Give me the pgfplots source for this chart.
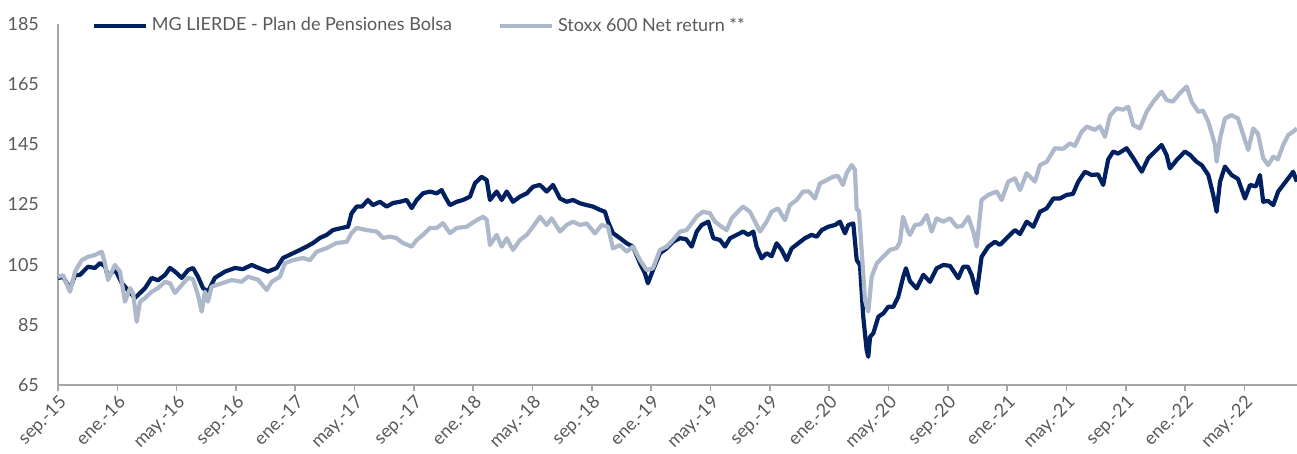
\documentclass[border=0pt]{standalone}
\usepackage{fontspec}
\setmainfont{Lato}
\usepackage{pgfplots}
\pgfplotsset{compat=1.18}
\definecolor{navy}{HTML}{002060}
\definecolor{greyblue}{HTML}{ADB9CA}
\definecolor{txt}{HTML}{595959}
\definecolor{axisgrey}{HTML}{A6A6A6}
\begin{document}
\begin{tikzpicture}
\begin{axis}[
  scale only axis, width=619.5pt, height=180.5pt,
  xmin=0, xmax=83.55, ymin=65, ymax=185,
  axis x line*=bottom, axis y line*=left,
  axis line style={axisgrey, line width=0.8pt},
  ytick={65,85,...,185},
  xtick={0,4,...,80},
  xticklabels={sep.-15,ene.-16,may.-16,sep.-16,ene.-17,may.-17,sep.-17,ene.-18,may.-18,sep.-18,ene.-19,may.-19,sep.-19,ene.-20,may.-20,sep.-20,ene.-21,may.-21,sep.-21,ene.-22,may.-22},
  x tick label style={rotate=45, anchor=north east, inner sep=1pt},
  y tick label style={xshift=-3pt},
  tick label style={font=\fontsize{9}{11}\selectfont, text=txt},
  /pgf/number format/assume math mode=true,
  ytick style={draw=none},
  xtick style={axisgrey, line width=0.8pt},
  tick align=outside, major tick length=3pt,
  legend columns=2,
  legend style={at={(0.022,0.995)}, anchor=west, draw=none, fill=none,
    font=\fontsize{9}{11}\selectfont, text=txt,
    /tikz/every even column/.append style={column sep=21pt}},
  legend image code/.code={\draw[#1] (0pt,0pt) -- (26pt,0pt);},
  every axis plot/.append style={line width=2.1pt, line join=round},
]
\addplot[navy] coordinates {
(0.00,100.5)(0.34,101)(0.81,97)(1.15,101.5)(1.48,101.6)(2.02,104.3)(2.49,103.9)(2.83,105.5)(3.17,104.5)(3.37,101)(3.84,103.5)(4.30,98.9)(4.72,96.5)(5.19,93.9)(5.39,94.9)(5.87,97.2)(6.32,100.6)(6.74,99.8)(7.22,101.6)(7.55,103.9)(7.89,102.7)(8.34,100.6)(8.77,103.2)(9.10,103.9)(9.44,101)(9.78,97.2)(10.11,96)(10.58,100.6)(11.26,102.7)(11.94,103.9)(12.47,103.5)(13.06,104.9)(13.49,104)(14.16,102.7)(14.75,103.9)(15.17,107.2)(15.85,108.8)(16.32,109.9)(16.77,111)(17.20,112.2)(17.67,113.9)(18.12,114.9)(18.54,116.5)(19.13,117.2)(19.56,117.6)(19.80,122.1)(20.14,124.3)(20.50,124.3)(20.90,126.5)(21.24,124.8)(21.71,125.9)(22.16,124.3)(22.59,125.5)(23.06,125.9)(23.51,126.5)(23.85,123.8)(24.19,126.5)(24.61,128.7)(25.08,129.3)(25.54,128.7)(25.87,129.8)(26.10,127.6)(26.43,124.8)(26.89,125.9)(27.31,126.5)(27.78,127.6)(28.12,132.1)(28.57,134.2)(28.91,133.1)(29.13,126.5)(29.58,129.3)(29.92,126.5)(30.26,129.3)(30.68,125.9)(31.15,127.6)(31.61,128.7)(32.03,130.9)(32.50,131.5)(32.95,129.3)(33.38,131.5)(33.85,127)(34.30,125.9)(34.73,126.5)(35.20,125.4)(35.65,124.8)(36.08,124.3)(36.55,123.2)(36.88,122.6)(37.09,119.3)(37.42,115.5)(37.90,113.8)(38.35,112.1)(38.77,111)(39.25,105.4)(39.58,102.1)(39.78,98.8)(40.12,103.2)(40.59,108.8)(41.04,110.4)(41.47,112.6)(41.94,113.8)(42.35,113.5)(42.73,111)(43.07,116)(43.41,118.2)(43.85,119.3)(44.19,113.8)(44.64,113.2)(44.98,111)(45.32,113.8)(45.77,114.9)(46.21,116)(46.55,114.9)(46.89,116)(47.11,111)(47.45,107.1)(47.79,108.8)(48.12,107.8)(48.46,112.1)(48.80,109.9)(49.14,106.5)(49.47,110.4)(49.92,112.1)(50.37,113.8)(50.82,114.9)(51.16,114.3)(51.50,116.5)(51.94,117.6)(52.40,118.2)(52.73,119.3)(53.07,115.4)(53.29,118.2)(53.63,118.7)(53.86,106.5)(54.08,104.9)(54.30,87.7)(54.53,76.6)(54.64,74.4)(54.76,81)(54.98,82.2)(55.32,87.7)(55.65,88.8)(55.99,91)(56.33,91)(56.66,94.3)(57.00,101)(57.18,103.8)(57.45,99.5)(57.90,97.1)(58.35,101.6)(58.80,99.3)(59.25,103.8)(59.70,104.9)(60.15,104.6)(60.71,100.5)(61.04,104.3)(61.36,104.3)(61.61,101.6)(61.95,95.5)(62.28,107.6)(62.73,111)(63.18,112.6)(63.52,111.6)(63.97,113.8)(64.53,116.5)(64.87,115.2)(65.32,119.3)(65.77,117.6)(66.22,122.6)(66.67,123.7)(67.12,127)(67.57,127)(68.02,128.2)(68.44,128.5)(68.80,132.6)(69.25,135.9)(69.70,134.8)(70.13,135)(70.48,131.5)(70.82,140)(71.16,142.6)(71.48,141.9)(72.06,143.7)(72.51,140.4)(73.08,135.9)(73.52,140.4)(73.97,142.6)(74.42,144.8)(74.76,141.4)(74.98,137)(75.44,139.8)(75.99,142.6)(76.33,141.5)(76.78,139.2)(77.14,138)(77.57,134.8)(77.90,128.2)(78.13,122.6)(78.36,132.6)(78.69,137.6)(79.14,134.8)(79.57,133.5)(80.04,127)(80.38,131.5)(80.78,131)(81.05,134.8)(81.27,125.9)(81.59,126.2)(81.95,124.8)(82.28,129.3)(82.62,131.5)(82.96,133.7)(83.29,135.9)(83.54,132.6)
};
\addlegendentry{MG LIERDE - Plan de Pensiones Bolsa}
\addplot[greyblue] coordinates {
(0.00,100.9)(0.34,101.5)(0.81,96)(1.15,102.7)(1.60,106.5)(2.02,107.6)(2.49,108.2)(2.95,109.3)(3.17,105.5)(3.37,99.9)(3.84,104.9)(4.18,102.7)(4.52,92.7)(4.86,97.2)(5.06,95.5)(5.31,86)(5.53,92.7)(5.87,93.9)(6.32,96)(6.74,97.2)(7.22,99.3)(7.55,98.8)(7.89,95.6)(8.34,98.2)(8.77,100.6)(9.10,100.2)(9.44,94.9)(9.69,89.4)(9.91,96)(10.11,92.7)(10.36,97.7)(11.04,98.8)(11.71,99.9)(12.39,99.3)(12.81,101)(13.49,100)(14.07,96.6)(14.41,99.3)(14.97,101)(15.31,105.5)(15.85,106.5)(16.52,107.2)(16.99,106.5)(17.44,109.3)(18.12,110.5)(18.79,112.2)(19.47,112.6)(19.80,115.5)(20.14,117.2)(20.82,116.5)(21.49,116)(21.91,113.9)(22.39,114.3)(22.79,113.9)(23.26,112.2)(23.85,111)(24.19,113.2)(24.61,114.9)(25.08,117.2)(25.54,117.2)(25.96,118.8)(26.43,115.5)(26.89,117.2)(27.56,117.6)(28.23,119.8)(28.66,120.9)(28.91,120)(29.13,111.5)(29.58,114.9)(29.92,111)(30.26,113.8)(30.68,109.9)(31.15,113.2)(31.61,114.9)(32.03,117.6)(32.50,120.9)(32.95,118.2)(33.29,120.4)(33.85,116)(34.30,118.2)(34.73,119.3)(35.20,118.2)(35.65,118.7)(36.21,115.4)(36.66,118.2)(37.09,117.6)(37.42,110.4)(37.90,111.5)(38.35,109.3)(38.77,111)(39.25,106.5)(39.70,103.2)(40.12,103.8)(40.59,109.9)(41.04,111)(41.47,113.2)(41.94,116)(42.39,116.5)(43.07,121)(43.49,122.6)(43.96,122.1)(44.30,119.3)(44.75,117.6)(45.09,116.5)(45.43,120.4)(45.85,122.6)(46.19,124.3)(46.66,122.6)(47.00,119.3)(47.34,116)(47.79,119.3)(48.12,122.6)(48.55,123.7)(49.02,119.8)(49.35,124.8)(49.81,126.5)(50.24,129.3)(50.64,129.3)(51.04,127)(51.38,132)(51.83,133.1)(52.26,134.2)(52.60,134.5)(52.93,131.5)(53.18,135.4)(53.52,138.1)(53.74,136.5)(53.86,123.2)(54.01,123)(54.19,109.9)(54.42,93.2)(54.64,89.4)(54.87,101)(55.21,105.4)(55.63,107.6)(56.10,109.9)(56.55,110.5)(56.78,112.6)(56.98,120.9)(57.32,116)(57.45,114.9)(57.79,118.2)(58.19,118.5)(58.58,121.5)(58.91,116)(59.25,120.4)(59.68,119.3)(60.15,120.4)(60.60,117.6)(60.96,117.8)(61.38,120.9)(61.72,116)(61.95,111)(62.28,126.5)(62.73,128.2)(63.30,129.3)(63.63,126.5)(64.08,132.6)(64.53,133.7)(64.87,129.8)(65.32,135.4)(65.88,132.6)(66.22,138.1)(66.67,139.2)(67.23,143.7)(67.77,143.5)(68.24,145.3)(68.57,144.5)(69.03,149.2)(69.37,150.9)(69.92,149.8)(70.26,151)(70.60,147.5)(70.94,154.5)(71.39,157)(71.81,156.5)(72.17,157.5)(72.51,151.4)(72.96,150.3)(73.41,155.8)(73.86,159.2)(74.42,162.5)(74.76,159.7)(75.18,159.2)(75.65,162)(76.11,164.2)(76.44,159.2)(76.89,155.8)(77.21,156.2)(77.57,152.5)(78.02,144.8)(78.13,139.2)(78.36,147)(78.69,153.6)(79.14,154.7)(79.57,153.6)(79.93,148.1)(80.26,143.1)(80.60,150.3)(80.92,148.5)(81.27,140.4)(81.61,138.1)(81.95,140.9)(82.26,140)(82.62,144.8)(82.96,148.1)(83.29,149.2)(83.54,150.3)
};
\addlegendentry{Stoxx 600 Net return **}
\end{axis}
\pgfresetboundingbox
\path[use as bounding box] ([xshift=-29pt,yshift=-34.5pt]current axis.south west) rectangle ([yshift=12pt]current axis.north east);
\end{tikzpicture}
\end{document}
